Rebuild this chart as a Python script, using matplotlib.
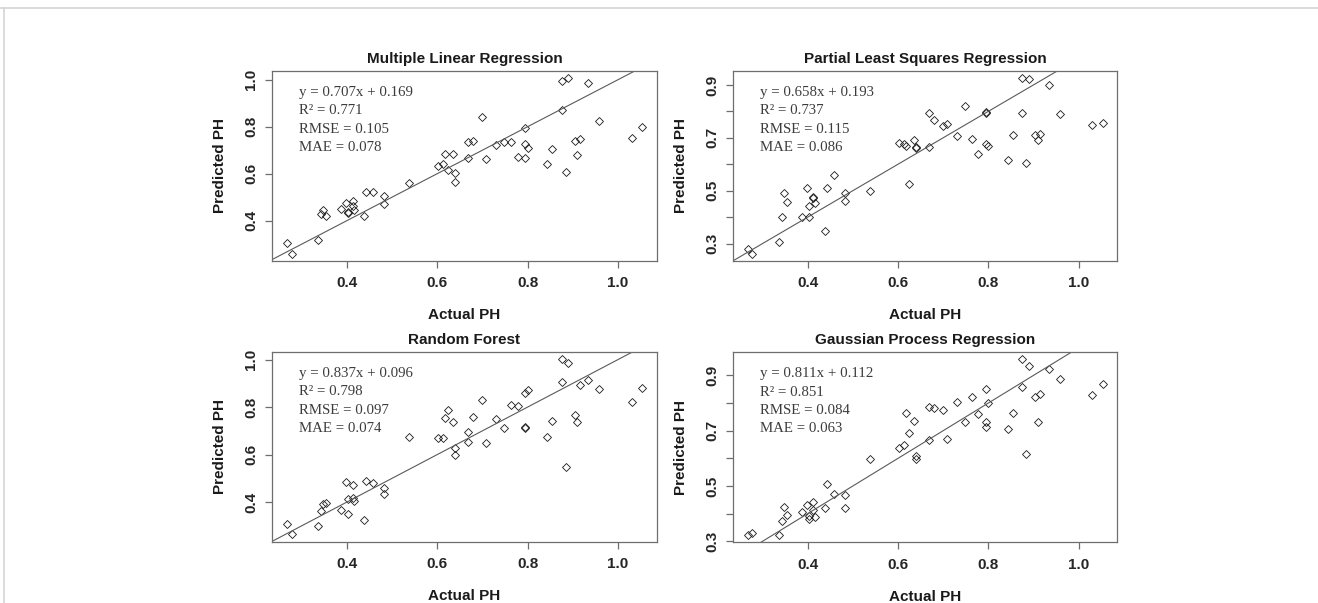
import matplotlib
matplotlib.use("Agg")
import matplotlib.pyplot as plt
from matplotlib.lines import Line2D

W, H = 1318, 603

# shared test set (x axis)
actual = [0.267, 0.278, 0.337, 0.344, 0.348, 0.354, 0.388, 0.399, 0.402, 0.402,
          0.413, 0.413, 0.417, 0.438, 0.443, 0.458, 0.483, 0.483, 0.538, 0.603,
          0.614, 0.617, 0.624, 0.635, 0.639, 0.639, 0.668, 0.668, 0.679, 0.699,
          0.709, 0.730, 0.748, 0.763, 0.778, 0.794, 0.794, 0.794, 0.800, 0.844,
          0.854, 0.875, 0.875, 0.890, 0.884, 0.904, 0.909, 0.915, 0.934, 0.959,
          1.030, 1.054]

pred_mlr = [0.304, 0.260, 0.317, 0.429, 0.447, 0.419, 0.449, 0.476, 0.438, 0.434,
            0.486, 0.463, 0.444, 0.420, 0.524, 0.521, 0.506, 0.471, 0.559, 0.631,
            0.640, 0.684, 0.616, 0.684, 0.604, 0.566, 0.669, 0.734, 0.739, 0.840,
            0.664, 0.721, 0.734, 0.734, 0.673, 0.794, 0.727, 0.669, 0.709, 0.640,
            0.706, 0.873, 0.996, 1.007, 0.607, 0.739, 0.681, 0.749, 0.984, 0.824,
            0.754, 0.799]

pred_pls = [0.280, 0.262, 0.305, 0.399, 0.493, 0.457, 0.402, 0.512, 0.442, 0.399,
            0.478, 0.472, 0.452, 0.346, 0.512, 0.559, 0.493, 0.460, 0.498, 0.679,
            0.677, 0.668, 0.526, 0.693, 0.667, 0.663, 0.665, 0.792, 0.767, 0.744,
            0.752, 0.707, 0.820, 0.697, 0.639, 0.797, 0.792, 0.677, 0.668, 0.617,
            0.709, 0.792, 0.926, 0.923, 0.606, 0.712, 0.693, 0.715, 0.898, 0.789,
            0.748, 0.757]

pred_rf = [0.309, 0.264, 0.300, 0.361, 0.393, 0.396, 0.369, 0.486, 0.413, 0.349,
           0.474, 0.418, 0.403, 0.324, 0.489, 0.479, 0.459, 0.434, 0.675, 0.668,
           0.671, 0.755, 0.788, 0.736, 0.628, 0.598, 0.653, 0.695, 0.760, 0.829,
           0.650, 0.751, 0.712, 0.807, 0.803, 0.861, 0.715, 0.711, 0.872, 0.675,
           0.740, 0.904, 1.001, 0.986, 0.550, 0.768, 0.736, 0.892, 0.913, 0.876,
           0.822, 0.881]

pred_gpr = [0.322, 0.329, 0.322, 0.374, 0.424, 0.396, 0.405, 0.433, 0.390, 0.381,
            0.444, 0.414, 0.387, 0.420, 0.506, 0.471, 0.468, 0.419, 0.597, 0.638,
            0.649, 0.763, 0.690, 0.736, 0.609, 0.596, 0.666, 0.787, 0.781, 0.774,
            0.670, 0.802, 0.733, 0.822, 0.759, 0.850, 0.730, 0.713, 0.799, 0.705,
            0.763, 0.858, 0.958, 0.934, 0.614, 0.822, 0.733, 0.833, 0.924, 0.888,
            0.830, 0.868]

titles = ["Multiple Linear Regression", "Partial Least Squares Regression",
          "Random Forest", "Gaussian Process Regression"]
equations = ["y = 0.707x + 0.169", "y = 0.658x + 0.193",
             "y = 0.837x + 0.096", "y = 0.811x + 0.112"]
r2 = ["0.771", "0.737", "0.798", "0.851"]
rmse = ["0.105", "0.115", "0.097", "0.084"]
mae = ["0.078", "0.086", "0.074", "0.063"]
preds = [pred_mlr, pred_pls, pred_rf, pred_gpr]

x_ticks = [0.4, 0.6, 0.8, 1.0]
y_ticks_a = [0.4, 0.6, 0.8, 1.0]
y_ticks_b = [0.3, 0.4, 0.5, 0.6, 0.7, 0.8, 0.9]
y_ticks = [y_ticks_a, y_ticks_b, y_ticks_a, y_ticks_b]

SANS = "Liberation Sans"
SERIF = "Liberation Serif"
FRAME = "#6e6e6e"
TICKTXT = "#262626"

plt.rcParams.update({
    "font.family": SANS,
    "axes.linewidth": 0.9,
    "axes.edgecolor": FRAME,
    "xtick.color": FRAME, "ytick.color": FRAME,
    "xtick.labelcolor": TICKTXT, "ytick.labelcolor": TICKTXT,
    "xtick.direction": "out", "ytick.direction": "out",
    "xtick.major.size": 5.3, "ytick.major.size": 5.3,
    "xtick.major.width": 0.9, "ytick.major.width": 0.9,
})

fig = plt.figure(figsize=(W / 100, H / 100), dpi=100)
fig.patch.set_facecolor("white")

# panel boxes in pixels: left, top, right, bottom
boxes = [(272.3, 71, 656.7, 260.7), (733.3, 71, 1117.3, 260.7),
         (272.3, 352.3, 656.7, 541.5), (733.3, 352.3, 1117.3, 542.3)]

for i, (l, t, r, b) in enumerate(boxes):
    ax = fig.add_axes([l / W, 1 - b / H, (r - l) / W, (b - t) / H])
    ax.plot(actual, preds[i], ls="none", marker="D", ms=3.8, mfc="none",
            mec="#1a1a1a", mew=0.6)
    # R-style 4% padding, then freeze before adding the 1:1 line
    ax.margins(x=0.04, y=0.04)
    ax.set_xlim(ax.get_xlim())
    ax.set_ylim(ax.get_ylim())
    ax.axline((0.5, 0.5), slope=1, color="#5a5a5a", lw=0.8)

    ax.set_xticks(x_ticks)
    ax.set_xticklabels([f"{v:.1f}" for v in x_ticks])
    yt = y_ticks[i]
    ax.set_yticks(yt)
    if len(yt) > 4:
        ax.set_yticklabels([f"{v:.1f}" if k % 2 == 0 else "" for k, v in enumerate(yt)])
    else:
        ax.set_yticklabels([f"{v:.1f}" for v in yt])
    ax.tick_params(axis="x", labelsize=11, pad=6)
    ax.tick_params(axis="y", labelsize=11, pad=5)
    for lab in ax.get_xticklabels() + ax.get_yticklabels():
        lab.set_fontweight("bold")
    for lab in ax.get_yticklabels():
        lab.set_rotation(90)
        lab.set_va("center")

    ax.set_title(titles[i], fontsize=11, fontweight="bold", color="#1a1a1a", pad=6)
    ax.set_xlabel("Actual PH", fontsize=11, fontweight="bold", color="#1a1a1a", labelpad=13)
    ax.set_ylabel("Predicted PH", fontsize=11, fontweight="bold", color="#1a1a1a", labelpad=12)

    lines = [equations[i], f"R\u00b2 = {r2[i]}", f"RMSE = {rmse[i]}", f"MAE = {mae[i]}"]
    for k, s in enumerate(lines):
        ax.text(0.069, 0.888 - k * 0.097, s, transform=ax.transAxes, family=SERIF,
                fontsize=10.7, color="#3c3c3c", va="center", ha="left")

# thin page border (top and left)
fig.add_artist(Line2D([0, 1], [1 - 8 / H, 1 - 8 / H], transform=fig.transFigure,
                      color="#d4d4d4", lw=1.2))
fig.add_artist(Line2D([4 / W, 4 / W], [0, 1 - 8 / H], transform=fig.transFigure,
                      color="#d4d4d4", lw=1.2))

fig.savefig("out.png", dpi=100)
